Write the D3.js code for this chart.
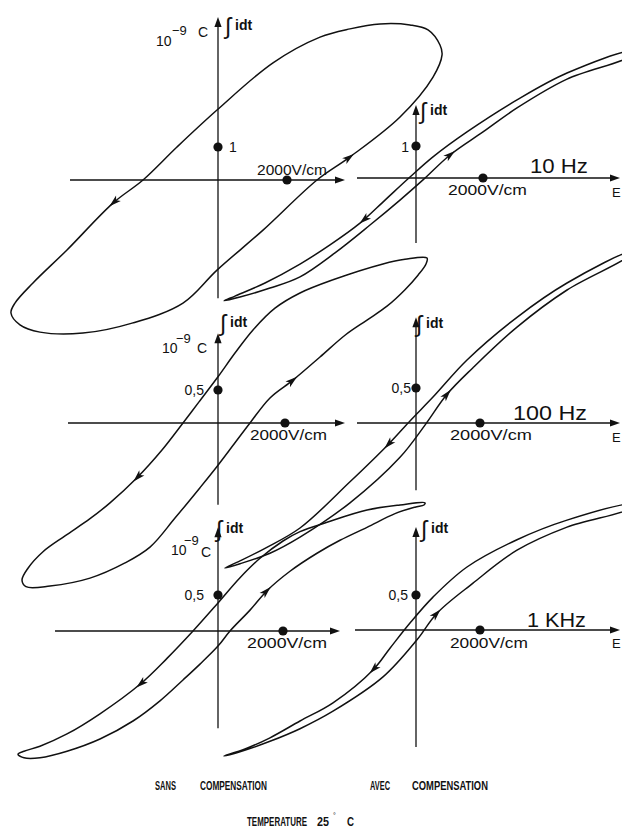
<!DOCTYPE html>
<html>
<head>
<meta charset="utf-8">
<script src="https://cdn.jsdelivr.net/npm/d3@7"></script>
<style>
  body { margin: 0; background: #fff; }
  svg { display: block; }
  text { font-family: "Liberation Sans", Arial, sans-serif; fill: #111; }
</style>
</head>
<body>
<div id="chart"></div>
<script>
// traced loops: [E (V/cm), Q (1e-9 C)], upper branch right->left then lower branch left->right
const loop10Sans = [[6435,4.09],[6088,4.55],[5566,4.70],[4696,4.73],[3826,4.58],[2957,4.33],[1594,3.55],[-29,2.12],[-1189,1.0],[-2174,0],[-3044,-0.70],[-4377,-2.12],[-5363,-3.12],[-5885,-3.73],[-6001,-4.03],[-5740,-4.39],[-5160,-4.61],[-3914,-4.64],[-2464,-4.33],[-1015,-3.73],[-29,-2.73],[1305,-1.52],[2870,0],[3827,0.70],[5276,1.91],[6233,3.12],[6494,3.79]];
const loop10Avec = [[6388,3.94],[4507,3.28],[3015,2.44],[1522,1.44],[507,0.66],[-179,0.03],[-925,-0.69],[-1672,-1.41],[-2567,-2.09],[-3463,-2.69],[-4507,-3.28],[-5403,-3.69],[-5731,-3.84],[-5254,-3.72],[-4358,-3.44],[-3463,-3.09],[-2418,-2.34],[-1373,-1.47],[-478,-0.69],[209,-0.06],[1015,0.72],[2000,1.44],[3015,2.19],[4507,3.09],[6388,3.81]];
const loop100Sans = [[6239,2.50],[5582,2.48],[4925,2.41],[3433,2.17],[2448,1.97],[1701,1.74],[1045,1.41],[507,1.06],[0,0.70],[-567,0.32],[-1045,0],[-1672,-0.41],[-2418,-0.83],[-3224,-1.21],[-3821,-1.45],[-4567,-1.71],[-5224,-1.95],[-5672,-2.20],[-5851,-2.38],[-5731,-2.48],[-5015,-2.47],[-3821,-2.35],[-2776,-2.12],[-2030,-1.88],[-1284,-1.44],[-537,-0.98],[0,-0.64],[507,-0.30],[955,0],[1552,0.38],[2239,0.65],[3045,1.0],[3791,1.33],[4448,1.56],[5045,1.77],[5582,2.02],[5970,2.24],[6209,2.41]];
const loop100Avec = [[6688,2.44],[4719,2.0],[3156,1.51],[1594,0.90],[531,0.37],[-188,0.03],[-875,-0.31],[-2063,-0.84],[-3625,-1.50],[-4719,-1.79],[-5500,-1.97],[-5969,-2.07],[-5500,-2.01],[-4563,-1.86],[-3625,-1.63],[-2063,-1.14],[-500,-0.49],[281,-0.03],[969,0.41],[1781,0.79],[3156,1.37],[4719,1.90],[6688,2.40]];
const loop1kSans = [[6369,1.78],[5600,1.75],[4585,1.68],[3354,1.51],[2523,1.38],[2000,1.25],[1292,1.01],[677,0.74],[0,0.39],[-769,0],[-1569,-0.38],[-2400,-0.74],[-3631,-1.15],[-4646,-1.43],[-5477,-1.60],[-5969,-1.67],[-6154,-1.71],[-5969,-1.76],[-5477,-1.76],[-4646,-1.67],[-3631,-1.50],[-2615,-1.25],[-1785,-0.97],[-1077,-0.68],[-554,-0.46],[0,-0.21],[369,0],[985,0.29],[1508,0.56],[2215,0.83],[3046,1.08],[3754,1.26],[4585,1.44],[5446,1.63],[6062,1.72],[6338,1.75]];
const loop1kAvec = [[6688,1.79],[4719,1.57],[3156,1.29],[1594,0.90],[531,0.47],[-188,0.10],[-813,-0.26],[-1344,-0.57],[-2594,-1.04],[-3625,-1.30],[-4563,-1.54],[-5344,-1.70],[-6000,-1.80],[-5500,-1.74],[-4563,-1.59],[-3625,-1.41],[-2594,-1.16],[-1031,-0.67],[31,-0.14],[656,0.24],[1781,0.67],[3156,1.14],[4719,1.47],[6688,1.74]];

// direction arrows sitting on the loops
const arrows10Sans = [[-3044,-0.70],[3827,0.70]];
const arrows10Avec = [[-1582,-1.31],[1015,0.78]];
const arrows100Sans = [[-2418,-0.83],[2239,0.65]];
const arrows100Avec = [[-813,-0.34],[969,0.43]];
const arrows1kSans = [[-2400,-0.74],[1508,0.56]];
const arrows1kAvec = [[-1344,-0.57],[656,0.24]];

const freqs = ["10 Hz", "100 Hz", "1 KHz"];
const yTicks = [1, 0.5, 0.5];
const yTickLabels = ["1", "0,5", "0,5"];
const xTick = 2000;
const xTickLabel = "2000V/cm";

const W = 622, H = 829;

// one entry per panel (origin, pixels for the marked ticks, axis extents in data units)
const panels = [
  { loop: loop10Sans, arrows: arrows10Sans, row: 0, ox: 218, oy: 180, pxX: 69, pxY: 33, xAxis: [-4290, 3682], yAxis: [-3.58, 4.94] },
  { loop: loop10Avec, arrows: arrows10Avec, row: 0, ox: 416, oy: 178, pxX: 67, pxY: 32, xAxis: [-1761, 6089], yAxis: [-2.03, 2.28] },
  { loop: loop100Sans, arrows: arrows100Sans, row: 1, ox: 218, oy: 423, pxX: 67, pxY: 33, xAxis: [-4478, 3791], yAxis: [-1.24, 1.36] },
  { loop: loop100Avec, arrows: arrows100Avec, row: 1, ox: 416, oy: 423, pxX: 64, pxY: 35, xAxis: [-1844, 6375], yAxis: [-0.96, 1.51] },
  { loop: loop1kSans, arrows: arrows1kSans, row: 2, ox: 218, oy: 631, pxX: 65, pxY: 36, xAxis: [-5015, 3754], yAxis: [-1.35, 1.44] },
  { loop: loop1kAvec, arrows: arrows1kAvec, row: 2, ox: 416, oy: 630, pxX: 64, pxY: 35, xAxis: [-1906, 6375], yAxis: [-1.67, 1.47] }
];

// label placement (pixels) per panel
const labelPos = [
  { intg: [225, 30], unit: [156, 46, 172, 35, 198, 37], tick: [229, 152, "start"], xlab: [257, 175, 70] },
  { intg: [420, 115], tick: [409, 152, "end"], xlab: [448, 195, 79], freq: [530, 173, 58], e: [612, 197] },
  { intg: [220, 327], unit: [162, 353, 176, 343, 197, 353], tick: [204, 395, "end"], xlab: [250, 440, 77] },
  { intg: [416, 328], tick: [411, 393, "end"], xlab: [450, 440, 82], freq: [513, 420, 74], e: [612, 442] },
  { intg: [216, 533], unit: [171, 555, 184, 545, 201, 557], tick: [204, 600, "end"], xlab: [247, 648, 80] },
  { intg: [421, 533], tick: [408, 600, "end"], xlab: [450, 648, 78], freq: [527, 627, 59], e: [612, 648] }
];

const svg = d3.select("#chart").append("svg")
  .attr("width", W)
  .attr("height", H)
  .style("background", "#fff");

const INK = "#111";

function axisHead(g, x, y, angle) {
  g.append("path")
    .attr("d", "M0,0 L-10,-3.6 L-10,3.6 Z")
    .attr("fill", INK)
    .attr("transform", "translate(" + x + "," + y + ") rotate(" + angle + ")");
}

// squeeze a text horizontally to a target width (keeps its real box the same as what is drawn)
function squeeze(sel, x, y, target) {
  const w = sel.node().getComputedTextLength();
  sel.attr("x", 0).attr("y", 0)
    .attr("transform", "translate(" + x + "," + y + ") scale(" + (target / w) + ",1)");
}

panels.forEach(function (p, i) {
  const x = d3.scaleLinear().domain([0, xTick]).range([p.ox, p.ox + p.pxX]);
  const y = d3.scaleLinear().domain([0, yTicks[p.row]]).range([p.oy, p.oy - p.pxY]);
  const g = svg.append("g");

  // axes
  g.append("line")
    .attr("x1", x(p.xAxis[0])).attr("x2", x(p.xAxis[1]) - 4)
    .attr("y1", y(0)).attr("y2", y(0))
    .attr("stroke", INK).attr("stroke-width", 1.3);
  axisHead(g, x(p.xAxis[1]), y(0), 0);
  g.append("line")
    .attr("x1", x(0)).attr("x2", x(0))
    .attr("y1", y(p.yAxis[0])).attr("y2", y(p.yAxis[1]) + 4)
    .attr("stroke", INK).attr("stroke-width", 1.3);
  axisHead(g, x(0), y(p.yAxis[1]), -90);

  // loop
  const line = d3.line()
    .x(function (d) { return x(d[0]); })
    .y(function (d) { return y(d[1]); })
    .curve(d3.curveCatmullRomClosed.alpha(0.5));
  const path = g.append("path")
    .datum(p.loop)
    .attr("d", line)
    .attr("fill", "none")
    .attr("stroke", INK)
    .attr("stroke-width", 1.5);

  // arrows follow the path direction
  const node = path.node(), total = node.getTotalLength();
  p.arrows.forEach(function (a) {
    const tx = x(a[0]), ty = y(a[1]);
    let best = 0, bd = Infinity;
    for (let l = 0; l < total; l += 0.5) {
      const pt = node.getPointAtLength(l);
      const d = (pt.x - tx) * (pt.x - tx) + (pt.y - ty) * (pt.y - ty);
      if (d < bd) { bd = d; best = l; }
    }
    const p0 = node.getPointAtLength(Math.max(0, best - 3));
    const p1 = node.getPointAtLength(Math.min(total, best + 3));
    const c = node.getPointAtLength(best);
    const ang = Math.atan2(p1.y - p0.y, p1.x - p0.x) * 180 / Math.PI;
    g.append("path")
      .attr("d", "M5,0 L-7,-3.6 L-4,0 L-7,3.6 Z")
      .attr("fill", INK)
      .attr("transform", "translate(" + c.x + "," + c.y + ") rotate(" + ang + ")");
  });

  // tick dots
  g.append("circle").attr("cx", x(xTick)).attr("cy", y(0)).attr("r", 4.6).attr("fill", INK);
  g.append("circle").attr("cx", x(0)).attr("cy", y(yTicks[p.row])).attr("r", 4.6).attr("fill", INK);

  // labels
  const L = labelPos[i];
  g.append("text").attr("x", L.intg[0]).attr("y", L.intg[1] + 4)
    .attr("font-family", "DejaVu Sans").attr("font-size", 23).text("\u222B");
  g.append("text").attr("x", L.intg[0] + 10).attr("y", L.intg[1])
    .attr("font-size", 14).attr("font-weight", "bold").text("idt");

  if (L.unit) {
    g.append("text").attr("x", L.unit[0]).attr("y", L.unit[1]).attr("font-size", 14).text("10");
    g.append("text").attr("x", L.unit[2]).attr("y", L.unit[3]).attr("font-size", 13).text("\u22129");
    g.append("text").attr("x", L.unit[4]).attr("y", L.unit[5]).attr("font-size", 14).text("C");
  }

  g.append("text").attr("x", L.tick[0]).attr("y", L.tick[1])
    .attr("text-anchor", L.tick[2]).attr("font-size", 14)
    .text(yTickLabels[p.row]);

  squeeze(g.append("text").attr("font-size", 15).text(xTickLabel), L.xlab[0], L.xlab[1], L.xlab[2]);

  if (L.freq) {
    squeeze(g.append("text").attr("font-size", 20).text(freqs[p.row]), L.freq[0], L.freq[1], L.freq[2]);
    g.append("text").attr("x", L.e[0]).attr("y", L.e[1]).attr("font-size", 13).text("E");
  }
});

// captions
const captions = [
  ["SANS", 155, 790, 21], ["COMPENSATION", 200, 790, 67],
  ["AVEC", 370, 790, 20], ["COMPENSATION", 412, 790, 76],
  ["TEMPERATURE", 247, 826, 60], ["25", 317, 826, 12], ["C", 347, 826, 7]
];
captions.forEach(function (c) {
  const t = svg.append("text")
    .attr("font-family", "DejaVu Sans Condensed")
    .attr("font-weight", "bold")
    .attr("font-size", 12)
    .text(c[0]);
  squeeze(t, c[1], c[2], c[3]);
});
svg.append("text").attr("x", 333).attr("y", 818)
  .attr("font-family", "DejaVu Sans").attr("font-size", 7).text("\u00B0");
</script>
</body>
</html>
